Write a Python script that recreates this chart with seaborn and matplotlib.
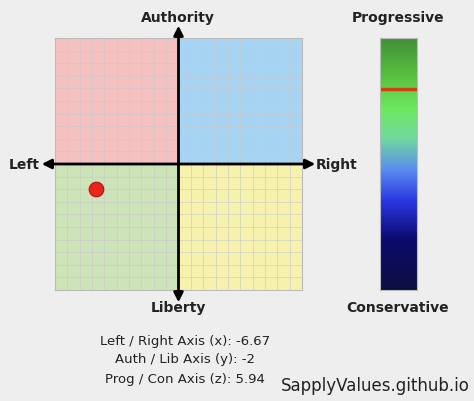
import matplotlib
matplotlib.use("Agg")
import matplotlib.pyplot as plt
import seaborn as sns
import numpy as np
import pandas as pd
from matplotlib.colors import LinearSegmentedColormap

sns.set_style("white")
plt.rcParams['font.family'] = ['DejaVu Sans']

x_val = [-6.67]
y_val = [-2]
z_val = 5.94
labels = ["Left / Right Axis (x): -6.67", "Auth / Lib Axis (y): -2", "Prog / Con Axis (z): 5.94"]

fig = plt.figure(figsize=(4.74, 4.01), dpi=100)
fig.patch.set_facecolor('#eeeeee')
ax = fig.add_axes([55/474, 1-290/401, 247/474, 252/401])
ax.set_xlim(-10, 10); ax.set_ylim(-10, 10)
ax.add_patch(plt.Rectangle((-10, 0), 10, 10, color='#f4c0c0', zorder=0))
ax.add_patch(plt.Rectangle((0, 0), 10, 10, color='#a8d4f4', zorder=0))
ax.add_patch(plt.Rectangle((-10, -10), 10, 10, color='#cde3b8', zorder=0))
ax.add_patch(plt.Rectangle((0, -10), 10, 10, color='#f6f2ae', zorder=0))
for v in range(-10, 11):
    ax.axvline(v, color='#c8c8c8', lw=0.6, alpha=0.7, zorder=1)
    ax.axhline(v, color='#c8c8c8', lw=0.6, alpha=0.7, zorder=1)
for s in ax.spines.values():
    s.set_color('#bbbbbb'); s.set_linewidth(0.8)
ax.set_xticks([]); ax.set_yticks([])
ax.annotate('', xy=(11.3, 0), xytext=(-11.3, 0), arrowprops=dict(arrowstyle='<|-|>', color='black', lw=2, mutation_scale=14), annotation_clip=False)
ax.annotate('', xy=(0, 11.2), xytext=(0, -11.2), arrowprops=dict(arrowstyle='<|-|>', color='black', lw=2, mutation_scale=14), annotation_clip=False)
df = pd.DataFrame({'x': x_val, 'y': y_val})
sns.scatterplot(data=df, x='x', y='y', ax=ax, s=110, color='#e8261c', edgecolor='#b01010', linewidth=0.8, zorder=5)
ax.set_xlabel(''); ax.set_ylabel('')

fig.text(178/474, 1-18/401, 'Authority', ha='center', va='center', fontsize=10, fontweight='bold', color='#222')
fig.text(178/474, 1-308/401, 'Liberty', ha='center', va='center', fontsize=10, fontweight='bold', color='#222')
fig.text(24/474, 1-165/401, 'Left', ha='center', va='center', fontsize=10, fontweight='bold', color='#222')
fig.text(337/474, 1-165/401, 'Right', ha='center', va='center', fontsize=10, fontweight='bold', color='#222')

cax = fig.add_axes([380/474, 1-290/401, 37/474, 252/401])
cmap = LinearSegmentedColormap.from_list('pc', [
    (0, '#0e0f40'), (0.2, '#0b0a6e'), (0.35, '#2a35e0'), (0.48, '#5b8ef0'),
    (0.6, '#70d8a0'), (0.72, '#6ee860'), (0.85, '#58c040'), (1, '#429038')])
grad = np.linspace(-10, 10, 256).reshape(-1, 1)
cax.imshow(grad, aspect='auto', cmap=cmap, origin='lower', extent=[0, 1, -10, 10])
cax.axhline(z_val, color='#d04010', lw=2.5)
cax.set_xticks([]); cax.set_yticks([])
for s in cax.spines.values():
    s.set_color('#bbbbbb'); s.set_linewidth(0.8)
fig.text(398/474, 1-18/401, 'Progressive', ha='center', va='center', fontsize=10, fontweight='bold', color='#222')
fig.text(398/474, 1-308/401, 'Conservative', ha='center', va='center', fontsize=10, fontweight='bold', color='#222')

for i, t in enumerate(labels):
    fig.text(185/474, 1-(341+19*i)/401, t, ha='center', va='center', fontsize=9.5, color='#222')
fig.text(375/474, 1-386/401, 'SapplyValues.github.io', ha='center', va='center', fontsize=12, color='#222')
fig.savefig('out.png', dpi=100, facecolor=fig.get_facecolor())
